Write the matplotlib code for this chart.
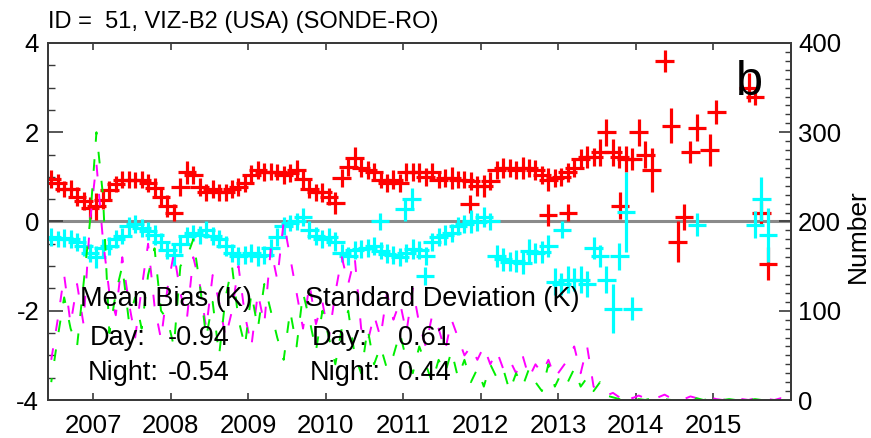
import numpy as np
import matplotlib
matplotlib.use("Agg")
import matplotlib.pyplot as plt
from matplotlib.ticker import MultipleLocator, FixedLocator

plt.rcParams['font.family'] = ['Liberation Sans', 'DejaVu Sans']

nan = np.nan

# Monthly values from Jun 2006 to Dec 2015 (115 months)
first_year = 2006
first_month = 6
n_months = 115

# Temperature bias (K), red series, with 1-sigma error
bias_red = [
    0.95, 0.87, 0.72, 0.72, 0.56, 0.45, 0.30, 0.34, 0.49, 0.70,
    0.83, 0.94, 0.94, 0.94, 0.94, 0.87, 0.75, 0.56, 0.34, 0.20,
    0.78, 1.10, 1.05, 0.78, 0.65, 0.72, 0.65, 0.65, 0.72, 0.78,
    0.87, 1.05, 1.15, 1.10, 1.12, 1.10, 1.05, 1.08, 1.15, 0.95,
    0.72, 0.65, 0.65, 0.56, 0.42, 0.98, 1.23, 1.42, 1.20, 1.15,
    1.10, 0.94, 0.87, 0.94, 0.87, 1.10, 1.10, 1.10, 1.00, 1.10,
    0.94, 0.98, 0.98, 0.94, 0.94, 0.90, 0.80, 0.80, 0.90, 1.15,
    1.20, 1.20, 1.15, 1.20, 1.20, 1.15, 1.05, 0.94, 0.98, 1.00,
    1.10, 1.20, 1.40, 1.45, 1.45, 1.55, 2.00, 1.55, 1.45, 1.40,
    1.40, 2.00, 1.50, 1.15, nan, 3.60, 2.15, -0.45, 0.10, 1.55,
    2.10, nan, 1.60, 2.45, nan, nan, nan, nan, 3.00, 2.80,
    0.20, -0.95, nan, nan, nan,
]
err_red = [
    0.20, 0.20, 0.18, 0.20, 0.22, 0.20, 0.25, 0.30, 0.20, 0.20,
    0.18, 0.20, 0.20, 0.18, 0.20, 0.20, 0.22, 0.20, 0.25, 0.20,
    0.20, 0.25, 0.20, 0.20, 0.18, 0.20, 0.20, 0.18, 0.20, 0.20,
    0.20, 0.22, 0.20, 0.20, 0.20, 0.18, 0.20, 0.20, 0.22, 0.20,
    0.20, 0.20, 0.22, 0.20, 0.25, 0.20, 0.20, 0.25, 0.20, 0.20,
    0.20, 0.20, 0.20, 0.22, 0.20, 0.20, 0.20, 0.22, 0.20, 0.20,
    0.20, 0.20, 0.25, 0.20, 0.20, 0.20, 0.22, 0.25, 0.20, 0.20,
    0.22, 0.20, 0.20, 0.25, 0.20, 0.22, 0.20, 0.25, 0.20, 0.20,
    0.22, 0.20, 0.22, 0.25, 0.20, 0.30, 0.30, 0.30, 0.25, 0.30,
    0.25, 0.30, 0.30, 0.50, nan, 0.25, 0.40, 0.45, 0.30, 0.25,
    0.30, nan, 0.35, 0.27, nan, nan, nan, nan, 0.33, 0.20,
    0.25, 0.37, nan, nan, nan,
]

# Temperature bias (K), cyan series, with 1-sigma error
bias_cyan = [
    -0.35, -0.40, -0.37, -0.40, -0.45, -0.55, -0.70, -0.80, -0.60, -0.55,
    -0.40, -0.33, -0.10, -0.05, -0.15, -0.22, -0.30, -0.45, -0.63, -0.75,
    -0.50, -0.33, -0.25, -0.30, -0.18, -0.33, -0.40, -0.55, -0.70, -0.78,
    -0.75, -0.70, -0.78, -0.75, -0.60, -0.35, -0.10, -0.03, 0.00, 0.10,
    -0.20, -0.33, -0.40, -0.35, -0.45, -0.70, -0.78, -0.63, -0.62, -0.60,
    -0.55, -0.65, -0.72, -0.75, -0.80, -0.70, -0.62, -0.63, -0.78, -0.45,
    -0.35, -0.30, -0.25, -0.10, -0.05, 0.00, -0.02, 0.10, 0.00, -0.78,
    -0.85, -0.90, -0.88, -0.92, -0.65, -0.70, -0.68, -0.55, -1.35, -1.40,
    -1.30, -1.30, -1.30, -1.40, -0.60, -0.78, -1.30, -1.95, -0.78, 0.22,
    -1.95, nan, nan, nan, nan, nan, nan, nan, nan, nan,
    -0.07, nan, nan, nan, nan, nan, nan, nan, nan, -0.07,
    0.50, -0.30, nan, nan, nan,
]
err_cyan = [
    0.20, 0.18, 0.20, 0.20, 0.20, 0.22, 0.20, 0.25, 0.20, 0.20,
    0.20, 0.18, 0.20, 0.20, 0.20, 0.20, 0.22, 0.20, 0.20, 0.25,
    0.20, 0.20, 0.18, 0.20, 0.20, 0.20, 0.20, 0.22, 0.20, 0.20,
    0.20, 0.20, 0.22, 0.20, 0.20, 0.20, 0.20, 0.18, 0.20, 0.20,
    0.20, 0.20, 0.20, 0.20, 0.22, 0.20, 0.20, 0.20, 0.20, 0.20,
    0.20, 0.20, 0.22, 0.20, 0.20, 0.20, 0.22, 0.20, 0.20, 0.20,
    0.20, 0.22, 0.20, 0.20, 0.20, 0.25, 0.20, 0.22, 0.20, 0.25,
    0.25, 0.22, 0.25, 0.25, 0.25, 0.22, 0.25, 0.25, 0.30, 0.25,
    0.30, 0.25, 0.30, 0.30, 0.25, 0.25, 0.30, 0.55, 0.30, 0.90,
    0.25, nan, nan, nan, nan, nan, nan, nan, nan, nan,
    0.25, nan, nan, nan, nan, nan, nan, nan, nan, 0.30,
    0.50, 0.60, nan, nan, nan,
]

# Off-grid soundings (decimal year, bias, error)
extra_red_t = [2011.86, 2012.87, 2013.13, 2013.80]
extra_red_v = [0.40, 0.15, 0.20, 0.35]
extra_red_e = [0.20, 0.25, 0.20, 0.30]
extra_cyan_t = [2010.70, 2011.02, 2011.11, 2011.28, 2013.05]
extra_cyan_v = [0.00, 0.27, 0.50, -1.23, -0.18]
extra_cyan_e = [0.20, 0.25, 0.25, 0.20, 0.20]

# Number of soundings per month (right axis)
count_magenta = [
    45, 90, 140, 85, 130, 85, 200, 265, 180, 120,
    95, 160, 110, 70, 125, 175, 105, 68, 125, 165,
    120, 90, 160, 130, 80, 140, 110, 70, 100, 150,
    95, 60, 120, 85, 170, 135, 200, 160, 120, 80,
    130, 85, 110, 70, 120, 160, 130, 160, 80, 65,
    95, 70, 120, 90, 110, 75, 125, 85, 60, 95,
    80, 55, 90, 70, 50, 60, 45, 60, 40, 55,
    35, 45, 30, 50, 25, 40, 30, 45, 25, 35,
    45, 60, 30, 60, 15, 10, 5, 8, 3, 10,
    2, 5, 2, 0, 3, 6, 2, 0, 1, 4,
    2, 0, 3, 1, 0, 2, 4, 1, 0, 2,
    3, 1, 0, 2, 1,
]
count_green = [
    20, 70, 115, 80, 60, 130, 200, 300, 230, 75,
    120, 150, 90, 115, 80, 140, 170, 100, 90, 60,
    150, 160, 180, 130, 70, 110, 50, 115, 150, 90,
    60, 120, 80, 130, 100, 70, 45, 100, 60, 120,
    90, 55, 100, 70, 40, 80, 100, 50, 30, 80,
    40, 60, 35, 50, 75, 45, 30, 60, 40, 20,
    45, 30, 55, 25, 45, 20, 35, 15, 40, 25,
    35, 10, 30, 15, 35, 20, 10, 40, 15, 30,
    20, 35, 15, 25, 10, 20, 5, 3, 1, 2,
    0, 1, 0, 2, 0, 1, 0, 0, 1, 0,
    2, 0, 1, 0, 0, 1, 0, 2, 0, 1,
    0, 0, 1, 0, 0,
]

year_ticks = [2007, 2008, 2009, 2010, 2011, 2012, 2013, 2014, 2015]
title = "ID =  51, VIZ-B2 (USA) (SONDE-RO)"
panel_letter = "b"
stats_bias = ("Mean Bias (K)", "-0.94", "-0.54")
stats_sd = ("Standard Deviation (K)", "0.61", "0.44")

# decimal-year centre of each month
months = np.arange(n_months)
t = first_year + (first_month - 1 + months + 0.5) / 12.0

W, H = 871, 438
fig = plt.figure(figsize=(W / 100, H / 100), dpi=100)
ax = fig.add_axes([47.5 / W, 1 - 400 / H, 743 / W, 357 / H])
ax.set_xlim(2006.41, 2016.0)
ax.set_ylim(-4, 4)

ax.axhline(0, color='#8a8a8a', lw=2.2, zorder=1)

cross = dict(fmt='none', elinewidth=2.3, capsize=0, zorder=3)
ax.errorbar(t, bias_red, xerr=0.12, yerr=err_red, ecolor='#ff0000', **cross)
ax.errorbar(extra_red_t, extra_red_v, xerr=0.12, yerr=extra_red_e, ecolor='#ff0000', **cross)
ax.errorbar(t, bias_cyan, xerr=0.12, yerr=err_cyan, ecolor='#00ffff', **cross)
ax.errorbar(extra_cyan_t, extra_cyan_v, xerr=0.12, yerr=extra_cyan_e, ecolor='#00ffff', **cross)

ax2 = ax.twinx()
ax2.set_ylim(0, 400)
ax2.plot(t, count_magenta, color='#ff00ff', lw=1.4, ls=(0, (6, 9)), zorder=2)
ax2.plot(t, count_green, color='#00ee00', lw=1.4, ls=(4, (6, 9)), zorder=2)

# axes styling
frame_col = '#3a3a3a'
for a in (ax, ax2):
    for s in a.spines.values():
        s.set_color(frame_col)
        s.set_linewidth(1.4)

ax.xaxis.set_major_locator(FixedLocator(year_ticks))
ax.set_xticklabels([str(y) for y in year_ticks])
ax.tick_params(axis='x', which='major', direction='in', length=5, width=1.2,
               top=True, bottom=True, labelsize=18.5, pad=10, color=frame_col)
ax.yaxis.set_minor_locator(MultipleLocator(0.5))
ax.set_yticks([-4, -2, 0, 2, 4])
ax.set_yticklabels(['-4', '-2', '0', '2', '4'])
ax.tick_params(axis='y', which='major', direction='in', length=11, width=1.2,
               left=True, right=False, labelsize=18.5, pad=6, color=frame_col)
ax.tick_params(axis='y', which='minor', direction='in', length=5, width=1.0,
               left=True, right=False, color=frame_col)

ax2.yaxis.set_major_locator(MultipleLocator(100))
ax2.yaxis.set_minor_locator(MultipleLocator(10))
ax2.tick_params(axis='y', which='major', direction='in', length=9, width=1.2,
                labelsize=18.5, pad=5.5, color=frame_col)
ax2.tick_params(axis='y', which='minor', direction='in', length=4, width=1.0,
                color=frame_col)

# annotations
fs = 19.5
tr = ax2.transAxes
ax2.text(0.0437, 0.263, stats_bias[0], transform=tr, fontsize=fs, va='baseline', zorder=10)
ax2.text(0.0572, 0.154, "Day:", transform=tr, fontsize=fs, va='baseline', zorder=10)
ax2.text(0.0545, 0.056, "Night:", transform=tr, fontsize=fs, va='baseline', zorder=10)
ax2.text(0.2443, 0.154, stats_bias[1], transform=tr, fontsize=fs, va='baseline', ha='right', zorder=10)
ax2.text(0.2443, 0.056, stats_bias[2], transform=tr, fontsize=fs, va='baseline', ha='right', zorder=10)

ax2.text(0.3466, 0.263, stats_sd[0], transform=tr, fontsize=fs, va='baseline', zorder=10)
ax2.text(0.356, 0.154, "Day:", transform=tr, fontsize=fs, va='baseline', zorder=10)
ax2.text(0.3533, 0.056, "Night:", transform=tr, fontsize=fs, va='baseline', zorder=10)
ax2.text(0.4717, 0.154, stats_sd[1], transform=tr, fontsize=fs, va='baseline', zorder=10)
ax2.text(0.4717, 0.056, stats_sd[2], transform=tr, fontsize=fs, va='baseline', zorder=10)

ax2.text(0.926, 0.854, panel_letter, transform=tr, fontsize=35, va='baseline', zorder=10)

fig.text(48 / W, 1 - 28 / H, title, fontsize=17, va='baseline', ha='left')
fig.text(858 / W, 1 - 236 / H, "Number", fontsize=19, rotation=90,
         va='center', ha='center')

fig.savefig("out.png", dpi=100)
